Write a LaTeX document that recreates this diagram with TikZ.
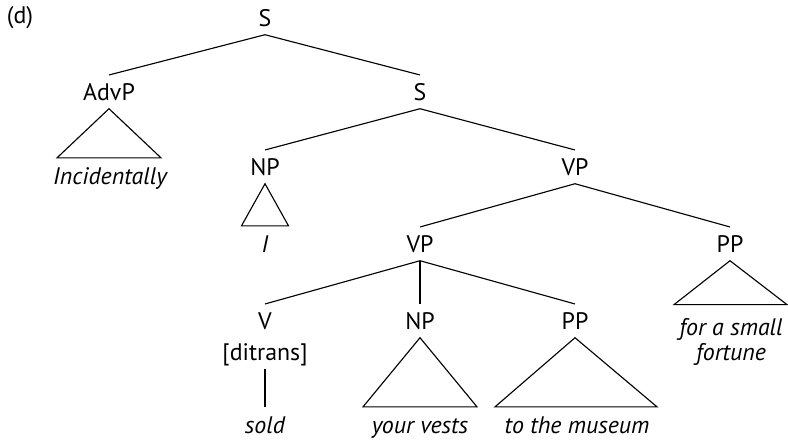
\documentclass[tikz,border=0pt]{standalone}
\usepackage{fontspec}
\setmainfont{PT Sans}
\usetikzlibrary{calc}
\tikzset{
  cat/.style={anchor=base, inner sep=6pt, text height=11.6pt, text depth=0pt},
  word/.style={anchor=base, inner xsep=0pt, inner ysep=6.8pt, text height=11.6pt, text depth=0pt,
    font=\fontsize{17}{20}\selectfont\itshape},
  branch/.style={line width=0.8pt},
}
\begin{document}
\begin{tikzpicture}[x=0.025cm, y=-0.025cm, font=\fontsize{17}{20}\selectfont]
\useasboundingbox (0,0) rectangle (788,443);
% arbre (d)
\node[anchor=base] (lab) at (20,23) {(d)};
\node[cat] (s) at (265,26) {S};
\node[cat] (advp) at (109,100) {AdvP};
\node[word] (incid) at (110,184) {Incidentally};
\node[cat] (s2) at (420,100) {S};
\node[cat] (np) at (265,175) {NP};
\node[word] (i) at (265,252) {I};
\node[cat] (vp) at (575,175) {VP};
\node[cat] (vp2) at (420,252) {VP};
\node[cat] (pp) at (730,252) {PP};
\node[word, inner ysep=9.8pt] (small) at (731,335) {for a small};
\node[word] (fortune) at (731,360) {fortune};
\node[cat] (v) at (265,329) {V};
\node[cat] (ditr) at (265,360) {[ditrans]};
\node[word] (sold) at (265,433) {sold};
\node[cat] (np2) at (420,329) {NP};
\node[word] (vests) at (420,433) {your vests};
\node[cat] (pp2) at (575,329) {PP};
\node[word] (museum) at (577,433) {to the museum};
% branches
\draw[branch] (s.south) -- (advp.north);
\draw[branch] (s.south) -- (s2.north);
\draw[branch] (s2.south) -- (np.north);
\draw[branch] (s2.south) -- (vp.north);
\draw[branch] (vp.south) -- (vp2.north);
\draw[branch] (vp.south) -- (pp.north);
\draw[branch] (vp2.south) -- (v.north);
\draw[branch] (vp2.south) -- (np2.north);
\draw[branch] (vp2.south) -- (pp2.north);
\draw[branch] (ditr.south) -- (sold.north);
% triangles
\draw[branch] (advp.south) -- ($(incid.north)+(-53,0)$) -- ($(incid.north)+(51,0)$) -- cycle;
\draw[branch] (np.south) -- ($(i.north)+(-23.5,0)$) -- ($(i.north)+(23.5,0)$) -- cycle;
\draw[branch] (pp.south) -- ($(small.north)+(-57,0)$) -- ($(small.north)+(56,0)$) -- cycle;
\draw[branch] (np2.south) -- ($(vests.north)+(-57,0)$) -- ($(vests.north)+(57,0)$) -- cycle;
\draw[branch] (pp2.south) -- ($(museum.north)+(-82,0)$) -- ($(museum.north)+(80,0)$) -- cycle;
\end{tikzpicture}
\end{document}
